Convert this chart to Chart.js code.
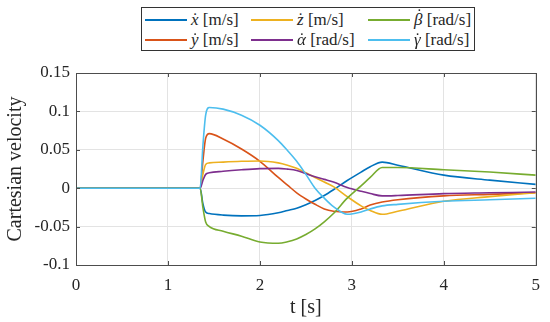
<!DOCTYPE html>
<html>
<head>
<meta charset="utf-8">
<script src="https://cdn.jsdelivr.net/npm/chart.js@4/dist/chart.umd.min.js"></script>
<style>
  body { margin: 0; background: #fff; }
  .wrap { position: relative; width: 550px; height: 322px; }
  .legenda {
    position: absolute; left: 141px; top: 7px; width: 334px; height: 44px;
    border: 1px solid #333; background: #fff; box-sizing: border-box;
    display: grid; grid-template-columns: 106px 117px 1fr; grid-template-rows: 20px 20px;
    padding: 2px 0 0 3px; font-family: "Liberation Serif", "DejaVu Serif", serif; font-size: 17px; color: #262626;
  }
  .item { display: flex; align-items: center; white-space: nowrap; }
  .item .linha { width: 42px; height: 2px; margin-right: 4px; }
  .simb { position: relative; font-style: italic; }
  .simb .ponto { position: absolute; left: 55%; top: -1px; transform: translateX(-50%); font-style: normal; }
  .simb.alto .ponto { top: -5px; left: 62%; }
</style>
</head>
<body>
<div class="wrap">
  <canvas id="grafico" width="550" height="322"></canvas>
  <div class="legenda" id="legenda"></div>
</div>
<script>
// tempo [s]
const tempo = [0, 1.35, 1.38, 1.41, 1.45, 1.6, 1.8, 2.0, 2.2, 2.3, 2.4, 2.5, 2.6, 2.7, 2.8, 2.95, 3.1, 3.2, 3.33, 3.5, 4.0, 4.5, 5];

// velocidades
const vx = [0, 0, -0.02, -0.031, -0.033, -0.035, -0.036, -0.0355, -0.032, -0.029, -0.026, -0.0215, -0.016, -0.0095, -0.002, 0.010, 0.021, 0.028, 0.034, 0.030, 0.017, 0.0105, 0.005];
const vy = [0, 0, 0.035, 0.065, 0.071, 0.064, 0.051, 0.035, 0.014, 0.004, -0.006, -0.014, -0.021, -0.027, -0.030, -0.031, -0.027, -0.022, -0.018, -0.015, -0.010, -0.008, -0.006];
const vz = [0, 0, 0.018, 0.031, 0.033, 0.034, 0.035, 0.0355, 0.033, 0.030, 0.026, 0.020, 0.014, 0.008, 0.002, -0.011, -0.023, -0.029, -0.034, -0.030, -0.017, -0.011, -0.006];
const valfa = [0, 0, 0.01, 0.018, 0.020, 0.022, 0.024, 0.0255, 0.0258, 0.0248, 0.023, 0.019, 0.015, 0.0115, 0.008, 0.001, -0.004, -0.007, -0.010, -0.0095, -0.007, -0.006, -0.005];
const vbeta = [0, 0, -0.025, -0.044, -0.050, -0.056, -0.0625, -0.070, -0.0717, -0.0697, -0.066, -0.0603, -0.053, -0.0438, -0.033, -0.013, 0.003, 0.014, 0.027, 0.027, 0.024, 0.021, 0.017];
const vgama = [0, 0, 0.055, 0.095, 0.105, 0.103, 0.095, 0.082, 0.062, 0.049, 0.035, 0.018, 0.0, -0.013, -0.024, -0.034, -0.031, -0.027, -0.023, -0.021, -0.017, -0.015, -0.013];

const simbolos = ["x", "y", "z", "α", "β", "γ"];
const unidades = ["[m/s]", "[m/s]", "[m/s]", "[rad/s]", "[rad/s]", "[rad/s]"];
const cores = ["#0072BD", "#D95319", "#EDB120", "#7E2F8E", "#77AC30", "#4DBEEE"];
const series = [vx, vy, vz, valfa, vbeta, vgama];

const ticksX = [0, 1, 2, 3, 4, 5];
const ticksY = [-0.1, -0.05, 0, 0.05, 0.1, 0.15];

// legenda em colunas, como no matlab
const legenda = document.getElementById("legenda");
legenda.innerHTML = [0, 2, 4, 1, 3, 5]
  .map((i) => `<div class="item"><span class="linha" style="background:${cores[i]}"></span><span class="simb${simbolos[i] === "β" ? " alto" : ""}">${simbolos[i]}<span class="ponto">˙</span></span>&nbsp;${unidades[i]}</div>`)
  .join("");

const caixa = {
  id: "caixa",
  afterDatasetsDraw(chart) {
    const { ctx, chartArea: a, scales } = chart;
    ctx.save();
    ctx.strokeStyle = "#4d4d4d";
    ctx.lineWidth = 1;
    ctx.beginPath();
    ticksX.forEach((v) => {
      const px = Math.round(scales.x.getPixelForValue(v)) + 0.5;
      ctx.moveTo(px, a.bottom); ctx.lineTo(px, a.bottom - 4);
      ctx.moveTo(px, a.top); ctx.lineTo(px, a.top + 4);
    });
    ticksY.forEach((v) => {
      const py = Math.round(scales.y.getPixelForValue(v)) + 0.5;
      ctx.moveTo(a.left, py); ctx.lineTo(a.left + 4, py);
      ctx.moveTo(a.right, py); ctx.lineTo(a.right - 4, py);
    });
    ctx.stroke();
    ctx.strokeRect(Math.round(a.left) + 0.5, Math.round(a.top) + 0.5, Math.round(a.right - a.left), Math.round(a.bottom - a.top));
    ctx.restore();
  }
};

const fonte = "'Liberation Serif', 'DejaVu Serif', serif";

new Chart(document.getElementById("grafico"), {
  type: "line",
  data: {
    datasets: series.map((s, i) => ({
      label: simbolos[i] + " " + unidades[i],
      data: tempo.map((t, k) => ({ x: t, y: s[k] })),
      borderColor: cores[i],
      borderWidth: 1.6,
      pointRadius: 0,
      cubicInterpolationMode: "monotone",
      order: series.length - i
    }))
  },
  options: {
    responsive: false,
    animation: false,
    layout: { padding: { top: 73, right: 10, left: 0, bottom: 0 } },
    plugins: { legend: { display: false }, tooltip: { enabled: false } },
    scales: {
      x: {
        type: "linear",
        min: 0, max: 5,
        afterBuildTicks: (s) => { s.ticks = ticksX.map((v) => ({ value: v })); },
        afterFit: (s) => { s.height = 57; },
        grid: { color: "#e3e3e3", drawTicks: false },
        border: { display: false },
        ticks: { padding: 10, color: "#262626", font: { family: fonte, size: 17 } },
        title: { display: true, text: "t [s]", color: "#262626", padding: { top: 0, bottom: 2 }, font: { family: fonte, size: 20 } }
      },
      y: {
        min: -0.1, max: 0.15,
        afterBuildTicks: (s) => { s.ticks = ticksY.map((v) => ({ value: v })); },
        afterFit: (s) => { s.width = 76; },
        grid: { color: "#e3e3e3", drawTicks: false },
        border: { display: false },
        ticks: {
          padding: 6, color: "#262626", font: { family: fonte, size: 17 },
          callback: (v) => String(Math.round(v * 100) / 100)
        },
        title: { display: true, text: "Cartesian velocity", color: "#262626", padding: { top: 4, bottom: 0 }, font: { family: fonte, size: 20 } }
      }
    }
  },
  plugins: [caixa]
});
</script>
</body>
</html>
